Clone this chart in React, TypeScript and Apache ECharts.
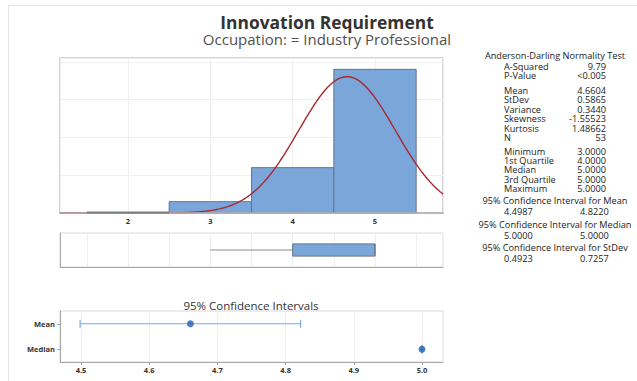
import React, { useEffect, useRef } from "react";
import * as echarts from "echarts";

// ---------- data ----------
const titleText = "Innovation Requirement";
const subtitleText = "Occupation: = Industry Professional";

const binStarts = [1.5, 2.5, 3.5, 4.5];
const binEnds = [2.5, 3.5, 4.5, 5.5];
const binCounts = [0, 3, 12, 38];

const sampleN = 53;
const sampleMean = 4.6604;
const sampleStDev = 0.5865;

// [min, Q1, median, Q3, max]
const boxStats = [3.0, 4.0, 5.0, 5.0, 5.0];

const ciCategories = ["Median", "Mean"];
const ciLow = [5.0, 4.4987];
const ciHigh = [5.0, 4.822];
const ciPoint = [5.0, 4.6604];

const adTitle = "Anderson-Darling Normality Test";
const statGroups = [
  [["A-Squared", "9.79"], ["P-Value", "<0.005"]],
  [
    ["Mean", "4.6604"],
    ["StDev", "0.5865"],
    ["Variance", "0.3440"],
    ["Skewness", "-1.55523"],
    ["Kurtosis", "1.48662"],
    ["N", "53"],
  ],
  [
    ["Minimum", "3.0000"],
    ["1st Quartile", "4.0000"],
    ["Median", "5.0000"],
    ["3rd Quartile", "5.0000"],
    ["Maximum", "5.0000"],
  ],
];
const ciHeaders = [
  "95% Confidence Interval for Mean",
  "95% Confidence Interval for Median",
  "95% Confidence Interval for StDev",
];
const ciLowText = ["4.4987", "5.0000", "0.4923"];
const ciHighText = ["4.8220", "5.0000", "0.7257"];
const ciPanelTitle = "95% Confidence Intervals";

const histMin = 1.174;
const histMax = 5.826;
const ciMin = 4.4692;
const ciMax = 5.0308;

const FONT = "'Open Sans', 'Noto Sans', sans-serif";

function normalCurve(): number[][] {
  const pts: number[][] = [];
  const binWidth = 1;
  const steps = 240;
  for (let i = 0; i <= steps; i++) {
    const x = histMin + ((histMax - histMin) * i) / steps;
    const z = (x - sampleMean) / sampleStDev;
    const y = (sampleN * binWidth * Math.exp(-0.5 * z * z)) / (sampleStDev * Math.sqrt(2 * Math.PI));
    pts.push([x, y]);
  }
  return pts;
}

function txt(x: number, y: number, text: string, size: number, align: string, extra: any = {}) {
  return {
    type: "text",
    x,
    y,
    style: {
      text,
      fontSize: size,
      lineHeight: Math.round(size * 0.95),
      fontFamily: FONT,
      fill: "#222",
      textAlign: align,
      textVerticalAlign: "middle",
      ...extra,
    },
  };
}

function buildGraphics(): any[] {
  const g: any[] = [];
  g.push({ type: "line", shape: { x1: 8, y1: 5.5, x2: 637, y2: 5.5 }, style: { stroke: "#e4e4e4", lineWidth: 1 } });
  g.push({ type: "line", shape: { x1: 8.5, y1: 5, x2: 8.5, y2: 381 }, style: { stroke: "#e4e4e4", lineWidth: 1 } });
  g.push(txt(327, 21.5, titleText, 17.4, "center", { fontWeight: "bold", fill: "#333" }));
  g.push(txt(327, 38.5, subtitleText, 15, "center", { fill: "#505050" }));
  g.push(txt(251, 305, ciPanelTitle, 11.5, "center", { fill: "#333" }));
  const fs = 9.2;
  g.push(txt(555, 55, adTitle, fs, "center"));
  const groupStarts = [66, 90.5, 151];
  statGroups.forEach((grp, gi) => {
    grp.forEach((row, ri) => {
      const y = groupStarts[gi] + ri * 9.4;
      g.push(txt(504, y, row[0], fs, "left"));
      g.push(txt(606, y, row[1], fs, "right"));
    });
  });
  ciHeaders.forEach((h, i) => {
    const y = 200.5 + i * 23.5;
    g.push(txt(555, y, h, fs, "center"));
    g.push(txt(504, y + 11, ciLowText[i], fs, "left"));
    g.push(txt(580, y + 11, ciHighText[i], fs, "left"));
  });
  return g;
}

export default function App() {
  const ref = useRef<HTMLDivElement>(null);
  useEffect(() => {
    if (!ref.current) return;
    const chart = echarts.init(ref.current, undefined, { renderer: "svg" });
    const axisLabelStyle = { fontSize: 7.5, fontFamily: FONT, color: "#333", fontWeight: "bold" as const };
    const histData = binStarts.map((s, i) => [s, binEnds[i], binCounts[i]]);
    const filledBins = histData.filter((d) => d[2] > 0);
    const emptyBins = histData.filter((d) => d[2] === 0);
    const option: any = {
      animation: false,
      backgroundColor: "#fff",
      grid: [
        { left: 60, top: 58, width: 383, height: 155, show: true, borderColor: "#c6c6c6", borderWidth: 1.5, backgroundColor: "transparent" },
        { left: 60, top: 233, width: 383, height: 34, show: true, borderColor: "#d8d8d8", borderWidth: 1, backgroundColor: "transparent" },
        { left: 60, top: 311, width: 383, height: 51, show: true, borderColor: "#d8d8d8", borderWidth: 1, backgroundColor: "transparent" },
      ],
      xAxis: [
        {
          type: "value", gridIndex: 0, min: histMin, max: histMax, splitNumber: 5,
          axisLine: { show: true, onZero: false, lineStyle: { color: "#b5b5b5", width: 1.5 } },
          axisTick: { show: false },
          axisLabel: { ...axisLabelStyle, margin: 4, showMinLabel: false, showMaxLabel: false },
          splitLine: { show: true, lineStyle: { color: "#efefef", width: 1 } },
        },
        {
          type: "value", gridIndex: 1, min: histMin, max: histMax, splitNumber: 10,
          axisLine: { show: true, onZero: false, lineStyle: { color: "#a8a8a8", width: 1 } },
          axisTick: { show: false },
          axisLabel: { show: false },
          splitLine: { show: true, lineStyle: { color: "#efefef", width: 1 } },
        },
        {
          type: "value", gridIndex: 2, min: ciMin, max: ciMax, splitNumber: 6,
          axisLine: { show: true, onZero: false, lineStyle: { color: "#a8a8a8", width: 1 } },
          axisTick: { show: true, length: 3, lineStyle: { color: "#a8a8a8" } },
          axisLabel: {
            ...axisLabelStyle, margin: 4, showMinLabel: false, showMaxLabel: false,
            formatter: (v: number) => v.toFixed(1),
          },
          splitLine: { show: true, lineStyle: { color: "#f0f0f0", width: 1 } },
        },
      ],
      yAxis: [
        {
          type: "value", gridIndex: 0, min: 0, max: 41, interval: 10,
          axisLine: { show: false }, axisTick: { show: false }, axisLabel: { show: false },
          splitLine: { show: true, lineStyle: { color: "#f0f0f0", width: 1 } },
        },
        {
          type: "category", gridIndex: 1, data: [""],
          axisLine: { show: true, lineStyle: { color: "#a8a8a8" } }, axisTick: { show: false }, axisLabel: { show: false },
          splitLine: { show: false },
        },
        {
          type: "category", gridIndex: 2, data: ciCategories,
          axisLine: { show: true, lineStyle: { color: "#a8a8a8" } },
          axisTick: { show: true, alignWithLabel: true, length: 3, lineStyle: { color: "#a8a8a8" } },
          axisLabel: { ...axisLabelStyle, margin: 5 },
          splitLine: { show: false },
        },
      ],
      series: [
        {
          type: "custom", xAxisIndex: 0, yAxisIndex: 0, data: filledBins, z: 2,
          renderItem: (params: any, api: any) => {
            const p0 = api.coord([api.value(0), api.value(2)]);
            const p1 = api.coord([api.value(1), 0]);
            return {
              type: "rect",
              shape: { x: p0[0], y: p0[1], width: p1[0] - p0[0], height: p1[1] - p0[1] },
              style: { fill: "#7ba6d9", stroke: "#66768a", lineWidth: 1 },
            };
          },
        },
        {
          type: "line", xAxisIndex: 0, yAxisIndex: 0, data: normalCurve(), showSymbol: false, symbol: "none",
          lineStyle: { color: "#a8282c", width: 1.4 }, z: 5,
        },
        {
          type: "custom", xAxisIndex: 0, yAxisIndex: 0, data: emptyBins, z: 14,
          markLine: {
            z: 12, silent: true, symbol: "none", label: { show: false },
            lineStyle: { color: "#b5b5b5", width: 1.5, type: "solid" },
            data: [[{ coord: [histMin, 0] }, { coord: [histMax, 0] }]],
          },
          renderItem: (params: any, api: any) => {
            const p0 = api.coord([api.value(0), 0]);
            const p1 = api.coord([api.value(1), 0]);
            return {
              type: "line",
              shape: { x1: p0[0], y1: p0[1] - 0.5, x2: p1[0], y2: p1[1] - 0.5 },
              style: { stroke: "#7d7d7d", lineWidth: 2 },
            };
          },
        },
        {
          type: "custom", xAxisIndex: 1, yAxisIndex: 1, data: [[0, ...boxStats]],
          renderItem: (params: any, api: any) => {
            const cat = api.value(0);
            const mn = api.value(1), q1 = api.value(2), md = api.value(3), q3 = api.value(4), mx = api.value(5);
            const h = api.size([0, 1])[1] * 0.36;
            const pMin = api.coord([mn, cat]);
            const pQ1 = api.coord([q1, cat]);
            const pMd = api.coord([md, cat]);
            const pQ3 = api.coord([q3, cat]);
            const pMax = api.coord([mx, cat]);
            return {
              type: "group",
              children: [
                { type: "line", shape: { x1: pMin[0], y1: pMin[1], x2: pQ1[0], y2: pQ1[1] }, style: { stroke: "#8a8a8a", lineWidth: 1 } },
                { type: "line", shape: { x1: pQ3[0], y1: pQ3[1], x2: pMax[0], y2: pMax[1] }, style: { stroke: "#8a8a8a", lineWidth: 1 } },
                { type: "rect", shape: { x: pQ1[0], y: pQ1[1] - h / 2, width: pQ3[0] - pQ1[0], height: h }, style: { fill: "#7ba6d9", stroke: "#66768a", lineWidth: 1 } },
                { type: "line", shape: { x1: pMd[0], y1: pMd[1] - h / 2, x2: pMd[0], y2: pMd[1] + h / 2 }, style: { stroke: "#66768a", lineWidth: 1 } },
              ],
            };
          },
        },
        {
          type: "custom", xAxisIndex: 2, yAxisIndex: 2,
          data: ciCategories.map((c, i) => [i, ciLow[i], ciHigh[i]]),
          renderItem: (params: any, api: any) => {
            const cat = api.value(0);
            const lo = api.coord([api.value(1), cat]);
            const hi = api.coord([api.value(2), cat]);
            const cap = 4;
            const st = { stroke: "#7aa8dc", lineWidth: 1.2 };
            return {
              type: "group",
              children: [
                { type: "line", shape: { x1: lo[0], y1: lo[1], x2: hi[0], y2: hi[1] }, style: st },
                { type: "line", shape: { x1: lo[0], y1: lo[1] - cap, x2: lo[0], y2: lo[1] + cap }, style: st },
                { type: "line", shape: { x1: hi[0], y1: hi[1] - cap, x2: hi[0], y2: hi[1] + cap }, style: st },
              ],
            };
          },
        },
        {
          type: "scatter", xAxisIndex: 2, yAxisIndex: 2,
          data: ciCategories.map((c, i) => [ciPoint[i], c]),
          symbol: "circle", symbolSize: 7,
          itemStyle: { color: "#1f5fb5" }, z: 6,
        },
      ],
      graphic: buildGraphics(),
    };
    chart.setOption(option);
    return () => chart.dispose();
  }, []);
  return (
    <div
      ref={ref}
      style={{ position: "fixed", left: 0, top: 0, width: 637, height: 381, background: "#fff" }}
    />
  );
}
